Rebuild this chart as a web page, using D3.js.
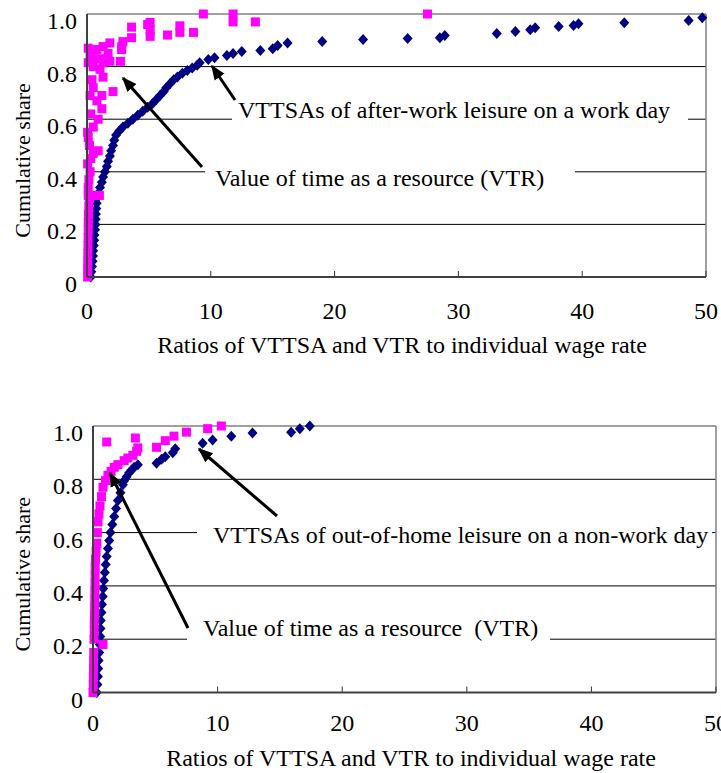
<!DOCTYPE html>
<html><head><meta charset="utf-8">
<script src="https://cdn.jsdelivr.net/npm/d3@7"></script>
<style>
body{margin:0;background:#fff}
svg{display:block}
</style>
</head><body>
<svg id="c" width="721" height="773" font-family="'Liberation Serif', 'Times New Roman', serif"></svg>
<script>
// ---------- data ----------
const xTicks = [0, 10, 20, 30, 40, 50];
const yTicks = [0, 0.2, 0.4, 0.6, 0.8, 1.0];
const yTickLabels = ["0", "0.2", "0.4", "0.6", "0.8", "1.0"];
const xTitle = "Ratios of VTTSA and VTR to individual wage rate";
const yTitle = "Cumulative share";

// Top panel: VTTSAs of after-work leisure on a work day (navy diamonds)
const topVTTSA = [[0.3,0.00],[0.35,0.02],[0.4,0.04],[0.45,0.06],[0.48,0.08],[0.5,0.10],[0.55,0.12],[0.58,0.14],[0.6,0.16],[0.65,0.18],[0.68,0.20],[0.7,0.22],[0.72,0.24],[0.75,0.26],[0.78,0.28],[0.82,0.30],[0.95,0.32],[1.05,0.34],[1.2,0.36],[1.3,0.38],[1.45,0.40],[1.6,0.42],[1.7,0.44],[1.85,0.46],[1.95,0.48],[2.1,0.50],[2.2,0.52],[2.35,0.54],[2.6,0.555],[2.9,0.57],[3.3,0.585],[3.7,0.60],[4.1,0.615],[4.5,0.63],[4.9,0.645],[5.3,0.66],[5.6,0.675],[5.9,0.69],[6.2,0.705],[6.4,0.72],[6.7,0.735],[7.0,0.75],[7.3,0.76],[7.7,0.775],[8.1,0.785],[8.5,0.795],[8.9,0.805],[9.1,0.815],[9.8,0.827],[10.3,0.834],[11.3,0.842],[11.8,0.85],[12.5,0.857],[14.0,0.861],[15.0,0.868],[15.4,0.88],[16.2,0.89],[19.0,0.895],[22.3,0.903],[25.9,0.907],[28.5,0.91],[28.9,0.918],[33.1,0.926],[34.6,0.933],[35.8,0.94],[36.2,0.948],[38.1,0.952],[39.3,0.956],[39.7,0.963],[43.4,0.967],[48.6,0.975],[49.7,0.986]];
// Top panel: value of time as a resource (magenta squares)
const topVTR = [[0.05,0.0],[0.05,0.03],[0.06,0.06],[0.07,0.09],[0.08,0.12],[0.09,0.15],[0.1,0.18],[0.1,0.21],[0.12,0.24],[0.15,0.27],[0.2,0.3],[0.1,0.31],[0.4,0.31],[0.7,0.31],[1.0,0.31],[0.1,0.34],[0.15,0.37],[0.25,0.40],[0.05,0.43],[0.3,0.45],[0.5,0.47],[0.9,0.48],[0.2,0.5],[0.1,0.53],[0.05,0.55],[0.5,0.57],[0.9,0.6],[0.3,0.62],[1.2,0.64],[0.8,0.67],[0.25,0.69],[1.2,0.69],[2.1,0.705],[0.5,0.72],[0.4,0.75],[1.3,0.76],[1.05,0.79],[0.5,0.80],[0.1,0.815],[1.3,0.815],[1.85,0.82],[2.7,0.82],[0.4,0.83],[1.05,0.83],[0.25,0.85],[1.7,0.85],[0.8,0.865],[2.8,0.865],[1.3,0.876],[2.8,0.876],[0.1,0.87],[1.85,0.89],[2.9,0.895],[3.6,0.91],[5.1,0.915],[6.5,0.92],[7.5,0.93],[8.6,0.93],[5.1,0.94],[3.6,0.95],[4.9,0.96],[5.1,0.968],[7.5,0.955],[9.4,1.0],[11.8,1.0],[11.8,0.97],[13.6,0.97],[27.5,1.0]];

// Bottom panel: VTTSAs of out-of-home leisure on a non-work day (navy diamonds)
const botVTTSA = [[0.3,0.0],[0.35,0.03],[0.4,0.06],[0.42,0.09],[0.45,0.12],[0.5,0.15],[0.55,0.18],[0.58,0.21],[0.6,0.24],[0.62,0.27],[0.68,0.30],[0.72,0.33],[0.78,0.36],[0.82,0.39],[0.88,0.42],[0.95,0.45],[1.02,0.48],[1.1,0.51],[1.2,0.54],[1.3,0.57],[1.4,0.60],[1.55,0.63],[1.7,0.66],[1.85,0.69],[2.0,0.72],[2.2,0.75],[2.4,0.78],[2.5,0.795],[2.7,0.81],[2.9,0.825],[3.1,0.835],[3.3,0.845],[3.6,0.855],[5.1,0.86],[5.5,0.875],[5.8,0.885],[6.4,0.9],[6.6,0.915],[8.8,0.935],[9.6,0.947],[11.1,0.962],[12.8,0.974],[15.9,0.977],[16.6,0.99],[17.4,1.0]];
// Bottom panel: value of time as a resource (magenta squares)
const botVTR = [[0.0,0.0],[0.02,0.03],[0.03,0.06],[0.04,0.09],[0.05,0.12],[0.06,0.15],[0.8,0.18],[0.08,0.2],[0.1,0.23],[0.1,0.26],[0.12,0.29],[0.13,0.32],[0.14,0.35],[0.15,0.38],[0.16,0.41],[0.17,0.44],[0.18,0.47],[0.2,0.5],[0.25,0.53],[0.3,0.56],[0.35,0.6],[0.4,0.64],[0.48,0.67],[0.56,0.70],[0.68,0.735],[0.8,0.77],[1.0,0.795],[1.2,0.815],[1.45,0.83],[1.7,0.845],[2.0,0.855],[2.5,0.87],[2.8,0.88],[3.2,0.89],[3.5,0.905],[3.6,0.918],[1.1,0.94],[3.4,0.955],[5.1,0.92],[5.8,0.945],[6.5,0.962],[7.5,0.977],[9.2,0.99],[10.3,1.0]];

const topLabels = ["VTTSAs of after-work leisure on a work day", "Value of time as a resource (VTR)"];
const botLabels = ["VTTSAs of out-of-home leisure on a non-work day", "Value of time as a resource  (VTR)"];

// ---------- layout ----------
const FONT = "'Liberation Serif', 'Times New Roman', serif";
const FS = 24;
const svg = d3.select("#c");
svg.append("defs").append("marker")
  .attr("id","ah").attr("viewBox","0 0 10 10").attr("refX",9).attr("refY",5)
  .attr("markerWidth",5).attr("markerHeight",5).attr("markerUnits","strokeWidth").attr("orient","auto")
  .append("path").attr("d","M0,1 L10,5 L0,9 Z").attr("fill","#000");

const panels = [
  {left:87, right:706, top:14, bottom:277, tickY:311, titleX:402, titleY:345, yTitleCx:22,
   vttsa:topVTTSA, vtr:topVTR, labels:topLabels,
   boxes:[{x0:232,x1:688,tx:238,cy:110},{x0:205,x1:575,tx:215,cy:178}],
   arrows:[[235,100,212,66],[202,167,123,78]]},
  {left:93, right:716, top:426, bottom:692.5, tickY:723, titleX:411, titleY:758, yTitleCx:22,
   vttsa:botVTTSA, vtr:botVTR, labels:botLabels,
   boxes:[{x0:197,x1:712,tx:213,cy:535},{x0:187,x1:550,tx:203,cy:628}],
   arrows:[[277,516,199,449],[188,628,110,473]]}
];

const diamond = "M0,-5.5 L5,0 L0,5.5 L-5,0 Z";

function txt(sel, fs){ return sel.attr("font-family",FONT).attr("font-size",fs||FS).attr("fill","#000"); }

panels.forEach(p => {
  const x = d3.scaleLinear().domain([0,50]).range([p.left,p.right]);
  const y = d3.scaleLinear().domain([0,1]).range([p.bottom,p.top]);
  const g = svg.append("g");

  g.append("g").selectAll("line").data(yTicks.slice(1,5)).join("line")
    .attr("x1",p.left).attr("x2",p.right).attr("y1",d=>y(d)).attr("y2",d=>y(d))
    .attr("stroke","#000").attr("stroke-width",1);

  g.append("line").attr("x1",p.left).attr("x2",p.right).attr("y1",p.top).attr("y2",p.top).attr("stroke","#808080").attr("stroke-width",1.5);
  g.append("line").attr("x1",p.right).attr("x2",p.right).attr("y1",p.top).attr("y2",p.bottom).attr("stroke","#808080").attr("stroke-width",1.5);

  g.append("g").selectAll("line").data(xTicks).join("line")
    .attr("x1",d=>x(d)).attr("x2",d=>x(d)).attr("y1",p.bottom).attr("y2",p.bottom-6)
    .attr("stroke","#333").attr("stroke-width",1);
  txt(g.append("g").selectAll("text").data(xTicks).join("text"))
    .attr("x",d=>x(d)).attr("y",p.tickY).attr("text-anchor","middle").attr("dominant-baseline","central")
    .text(d=>d);
  txt(g.append("g").selectAll("text").data(yTicks).join("text"))
    .attr("x",p.left-10).attr("y",d=>y(d)+7).attr("text-anchor","end").attr("dominant-baseline","central")
    .text((d,i)=>yTickLabels[i]);

  txt(g.append("text")).attr("x",p.titleX).attr("y",p.titleY).attr("text-anchor","middle")
    .attr("dominant-baseline","central").text(xTitle);
  txt(g.append("text"), 22).attr("transform",`translate(${p.yTitleCx},${(p.top+p.bottom)/2+15}) rotate(-90)`)
    .attr("text-anchor","middle").attr("dominant-baseline","central").text(yTitle);

  p.boxes.forEach((b,i) => {
    g.append("rect").attr("x",b.x0).attr("y",b.cy-15).attr("width",b.x1-b.x0).attr("height",30).attr("fill","#fff");
    txt(g.append("text")).attr("x",b.tx).attr("y",b.cy).attr("dominant-baseline","central")
      .attr("xml:space","preserve").style("white-space","pre").text(p.labels[i]);
  });

  g.append("g").selectAll("path").data(p.vttsa).join("path")
    .attr("d",diamond).attr("transform",d=>`translate(${x(d[0])},${y(d[1])})`).attr("fill","#000080");
  g.append("g").selectAll("rect").data(p.vtr).join("rect")
    .attr("x",d=>x(d[0])-4.5).attr("y",d=>y(d[1])-4.5).attr("width",9).attr("height",9).attr("fill","#FF00FF");

  g.append("line").attr("x1",p.left).attr("x2",p.left).attr("y1",p.top).attr("y2",p.bottom).attr("stroke","#404040").attr("stroke-width",2);
  g.append("line").attr("x1",p.left).attr("x2",p.right).attr("y1",p.bottom).attr("y2",p.bottom).attr("stroke","#404040").attr("stroke-width",2);

  p.arrows.forEach(a => {
    g.append("line").attr("x1",a[0]).attr("y1",a[1]).attr("x2",a[2]).attr("y2",a[3])
      .attr("stroke","#000").attr("stroke-width",3).attr("marker-end","url(#ah)");
  });
});
</script>
</body></html>
